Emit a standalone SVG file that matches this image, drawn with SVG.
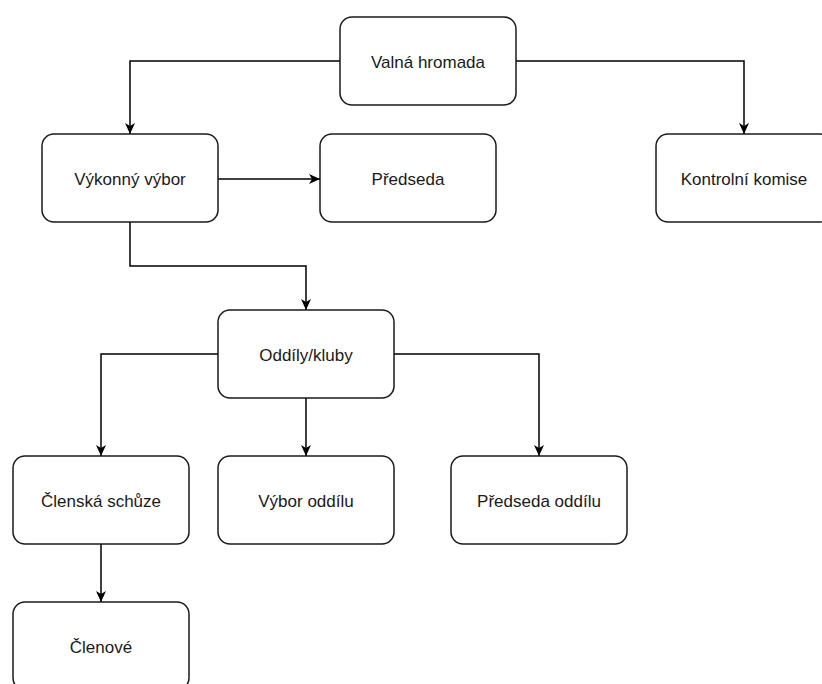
<svg xmlns="http://www.w3.org/2000/svg" width="822" height="684" viewBox="0 0 822 684">
<style>
.box{fill:#fff;stroke:#1a1a1a;stroke-width:1.5}
.lbl{font-family:"Liberation Sans",Arial,sans-serif;font-size:17px;fill:#1a1a1a;text-anchor:middle;dominant-baseline:central}
.edge{fill:none;stroke:#000;stroke-width:1.5;marker-end:url(#arr)}
</style>
<defs>
<marker id="arr" markerUnits="userSpaceOnUse" markerWidth="12" markerHeight="12" viewBox="0 0 12 12" refX="11" refY="6" orient="auto">
<path d="M0,1 L11,6 L0,11 L3,6 Z" fill="#000"/>
</marker>
</defs>
<rect width="822" height="684" fill="#fff"/>
<g id="connectors">
<path class="edge" d="M340,61 H130 V134"/>
<path class="edge" d="M516,61 H744 V134"/>
<path class="edge" d="M218,179 H320"/>
<path class="edge" d="M130,222 V266 H306 V310"/>
<path class="edge" d="M218,354 H101 V456"/>
<path class="edge" d="M306,398 V456"/>
<path class="edge" d="M394,354 H539 V456"/>
<path class="edge" d="M101,544 V602"/>
</g>
<g id="valna"><rect class="box" x="340" y="17" width="176" height="88" rx="12"/><text class="lbl" x="428" y="62">Valná hromada</text></g>
<g id="vykonny"><rect class="box" x="42" y="134" width="176" height="88" rx="12"/><text class="lbl" x="130" y="179">Výkonný výbor</text></g>
<g id="predseda"><rect class="box" x="320" y="134" width="176" height="88" rx="12"/><text class="lbl" x="408" y="179">Předseda</text></g>
<g id="kontrolni"><rect class="box" x="656" y="134" width="176" height="88" rx="12"/><text class="lbl" x="744" y="179">Kontrolní komise</text></g>
<g id="oddily"><rect class="box" x="218" y="310" width="176" height="88" rx="12"/><text class="lbl" x="306" y="355">Oddíly/kluby</text></g>
<g id="clenska"><rect class="box" x="13" y="456" width="176" height="88" rx="12"/><text class="lbl" x="101" y="501">Členská schůze</text></g>
<g id="vybor"><rect class="box" x="218" y="456" width="176" height="88" rx="12"/><text class="lbl" x="306" y="501">Výbor oddílu</text></g>
<g id="predseda-oddilu"><rect class="box" x="451" y="456" width="176" height="88" rx="12"/><text class="lbl" x="539" y="501">Předseda oddílu</text></g>
<g id="clenove"><rect class="box" x="13" y="602" width="176" height="88" rx="12"/><text class="lbl" x="101" y="647">Členové</text></g>
</svg>
